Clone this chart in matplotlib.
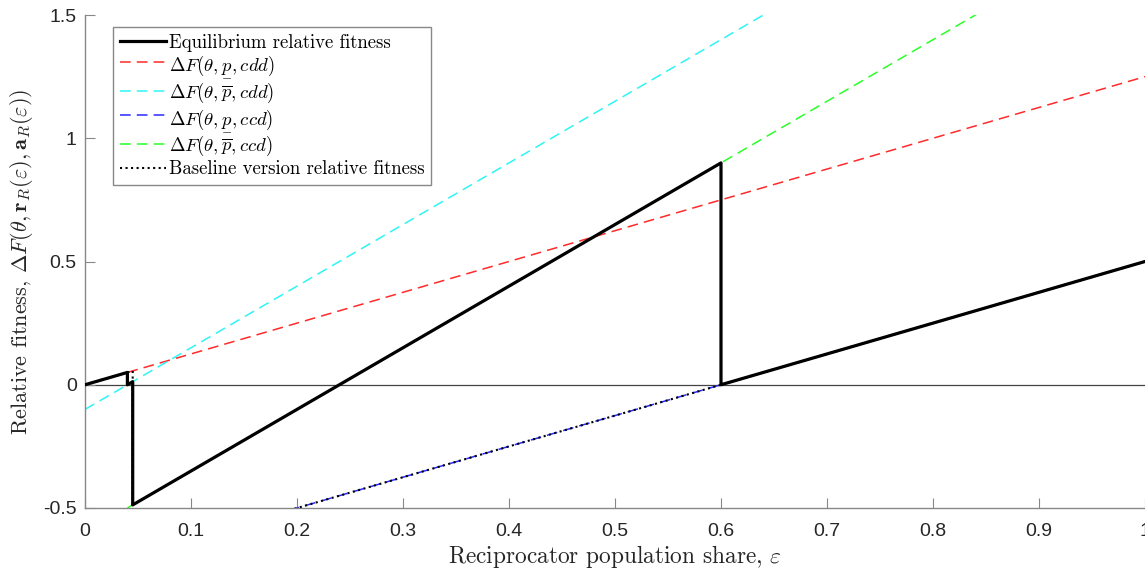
import matplotlib
matplotlib.use("Agg")
import matplotlib.pyplot as plt

plt.rcParams['mathtext.fontset'] = 'cm'

# endpoints of each piecewise-linear curve
eq_x = [0.0, 0.04, 0.04, 0.045, 0.045, 0.6, 0.6, 1.0]
eq_y = [0.0, 0.05, 0.0, 0.0125, -0.4875, 0.9, 0.0, 0.5]

red_x = [0.04, 1.0]
red_y = [0.05, 1.25]

cyan_x = [0.0, 1.0]
cyan_y = [-0.1, 2.4]

blue_x = [0.04, 1.0]
blue_y = [-0.7, 0.5]

green_x = [0.04, 1.0]
green_y = [-0.5, 1.9]

base_x = [0.0, 0.045, 0.045, 1.0]
base_y = [0.0, 0.056, -0.694, 0.5]

xticks = [0, 0.1, 0.2, 0.3, 0.4, 0.5, 0.6, 0.7, 0.8, 0.9, 1]
xtick_labels = ['0', '0.1', '0.2', '0.3', '0.4', '0.5', '0.6', '0.7', '0.8', '0.9', '1']
yticks = [-0.5, 0, 0.5, 1, 1.5]
ytick_labels = ['-0.5', '0', '0.5', '1', '1.5']

fig = plt.figure(figsize=(11.45, 5.68), dpi=100)
ax = fig.add_axes([85 / 1145, 60 / 568, 1060 / 1145, 493 / 568])

ax.axhline(0, color='#444444', lw=0.9, zorder=1)

dash = (7, 4)
ax.plot(eq_x, eq_y, color='black', lw=2.3, zorder=3,
        label='Equilibrium relative fitness')
ax.plot(red_x, red_y, color='#ff2a2a', lw=1.1, dashes=dash, zorder=2,
        label=r'$\Delta F(\theta,\underset{-}{p},cdd)$')
ax.plot(cyan_x, cyan_y, color='#2ff5f5', lw=1.1, dashes=dash, zorder=2,
        label=r'$\Delta F(\theta,\overline{p},cdd)$')
ax.plot(blue_x, blue_y, color='#2a2aff', lw=1.1, dashes=dash, zorder=2,
        label=r'$\Delta F(\theta,\underset{-}{p},ccd)$')
ax.plot(green_x, green_y, color='#2aff2a', lw=1.1, dashes=dash, zorder=2,
        label=r'$\Delta F(\theta,\overline{p},ccd)$')
ax.plot(base_x, base_y, color='black', lw=1.5, ls=':', zorder=4,
        label='Baseline version relative fitness')

ax.set_xlim(0, 1)
ax.set_ylim(-0.5, 1.5)
ax.set_xticks(xticks)
ax.set_xticklabels(xtick_labels, fontfamily='Liberation Sans', fontsize=14)
ax.set_yticks(yticks)
ax.set_yticklabels(ytick_labels, fontfamily='Liberation Sans', fontsize=14)
ax.tick_params(direction='in', length=7, color='#888888', labelcolor='#262626')
ax.tick_params(axis='x', pad=11)
ax.tick_params(axis='y', pad=6)

for s in ['top', 'right']:
    ax.spines[s].set_visible(False)
for s in ['left', 'bottom']:
    ax.spines[s].set_color('#888888')
    ax.spines[s].set_linewidth(1.0)

ax.set_xlabel(r'Reciprocator population share, $\varepsilon$',
              fontfamily='cmr10', fontsize=16.8, color='#262626', labelpad=2)
ax.set_ylabel(r'Relative fitness, $\Delta F(\theta,\mathbf{r}_R(\varepsilon),\mathbf{a}_R(\varepsilon))$',
              fontfamily='cmr10', fontsize=16, color='#262626', labelpad=6)

leg = ax.legend(loc='upper left', bbox_to_anchor=(28 / 1060, 1 - 12 / 493),
                prop={'family': 'cmr10', 'size': 13.5}, handlelength=2.5,
                handletextpad=0.15, labelspacing=0.12, borderpad=0.35,
                fancybox=False, framealpha=1, borderaxespad=0)
leg.get_frame().set_edgecolor('#888888')
leg.get_frame().set_linewidth(1.0)

fig.savefig('out.png', dpi=100)
